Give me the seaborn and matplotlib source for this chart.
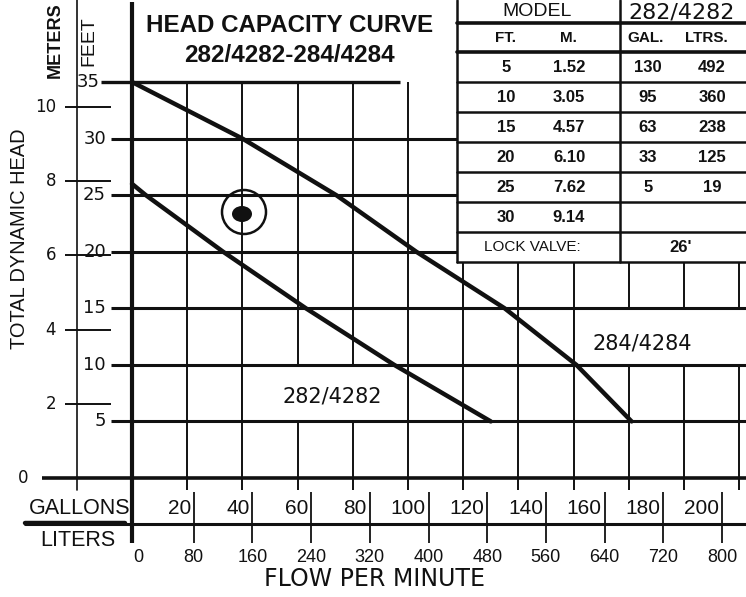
import matplotlib
matplotlib.use("Agg")
import matplotlib.pyplot as plt
import seaborn as sns
import pandas as pd
import numpy as np
from matplotlib.patches import Rectangle, Circle, Ellipse
from matplotlib.lines import Line2D

# ---------------- data ----------------
gal_282 = [0, 5, 33, 63, 95, 130]
ft_282 = [26, 25, 20, 15, 10, 5]
gal_284 = [0, 40, 74, 103, 135, 161, 181]
ft_284 = [35, 30, 25, 20, 15, 10, 5]

feet_ticks = [5, 10, 15, 20, 25, 30, 35]
meter_ticks = [0, 2, 4, 6, 8, 10]
gallon_grid = [20, 40, 60, 80, 100, 120, 140, 160, 180, 200, 220]
gallon_labels = [20, 40, 60, 80, 100, 120, 140, 160, 180, 200]
liter_labels = [0, 80, 160, 240, 320, 400, 480, 560, 640, 720, 800]

table_ft = ["5", "10", "15", "20", "25", "30"]
table_m = ["1.52", "3.05", "4.57", "6.10", "7.62", "9.14"]
table_gal = ["130", "95", "63", "33", "5", ""]
table_ltr = ["492", "360", "238", "125", "19", ""]
lock_valve = "26'"

# ---------------- style ----------------
sns.set_theme(style="white")
plt.rcParams["font.family"] = ["DejaVu Sans"]
NARROW = ["Liberation Sans Narrow", "Liberation Sans", "DejaVu Sans"]
ARIAL = ["Liberation Sans", "DejaVu Sans"]
DJ = ["DejaVu Sans"]
INK = "#111111"

W, H = 746, 597
X0, PXG = 132, 2.76      # main grid: pixel of 0 gal, px per gallon
Y0, PXF = 478, 396 / 35  # main grid: pixel of 0 ft, px per foot

fig = plt.figure(figsize=(W / 100, H / 100), dpi=100)
fig.patch.set_facecolor("white")


def fx(px):
    return px / W


def fy(py):
    return 1 - py / H


def g(px):
    return (px - X0) / PXG


def f(py):
    return (Y0 - py) / PXF


XMAX = (W - X0) / PXG
ax = fig.add_axes([fx(X0), fy(Y0), (W - X0) / W, (Y0 - 82) / H])
ax.set_xlim(0, XMAX)
ax.set_ylim(0, 35)
ax.set_axis_off()

# grid
ax.vlines(gallon_grid, f(490), 35, colors=INK, lw=1.4, zorder=1, clip_on=False)
ax.add_patch(Rectangle((160, 10), XMAX - 160 + 5, 5, fc="white", ec=INK, lw=1.4, zorder=2))
ax.add_patch(Rectangle((40, 5), 60, 5, fc="white", ec=INK, lw=1.4, zorder=2))
ax.hlines(feet_ticks[:-1], g(111), XMAX, colors=INK, lw=2.2, zorder=3, clip_on=False)
ax.hlines(feet_ticks[-1], g(101), g(400), colors=INK, lw=2.4, zorder=3, clip_on=False)
ax.hlines(0, g(42), XMAX, colors=INK, lw=2.6, zorder=3, clip_on=False)
ax.vlines(0, f(543), f(2), colors=INK, lw=3.0, zorder=4, clip_on=False)

# meter scale
m_in_ft = np.array(meter_ticks[1:]) * 3.28084
ax.hlines(m_in_ft, g(65), g(111), colors=INK, lw=1.4, zorder=3, clip_on=False)
for m in meter_ticks[1:]:
    ax.text(g(56), m * 3.28084, str(m), ha="right", va="center", fontsize=12,
            family=DJ, color=INK, clip_on=False)
ax.text(g(28), 0, "0", ha="right", va="center", fontsize=12, family=DJ, color=INK)

# feet labels
for v in feet_ticks:
    ax.text(g(100 if v == 35 else 106), v, str(v), ha="right", va="center", fontsize=13,
            family=DJ, color=INK)

# curves
df = pd.concat([
    pd.DataFrame({"gallons": gal_282, "feet": ft_282, "model": "282/4282"}),
    pd.DataFrame({"gallons": gal_284, "feet": ft_284, "model": "284/4284"}),
], ignore_index=True)
sns.lineplot(data=df, x="gallons", y="feet", hue="model", units="model",
             estimator=None, sort=False, palette=[INK, INK], lw=3.2,
             legend=False, ax=ax, zorder=5)
for ln in ax.lines:
    ln.set_clip_on(False)
    ln.set_solid_capstyle("round")
ax.set_xlim(0, XMAX)
ax.set_ylim(0, 35)
ax.set_axis_off()

ax.text(185, 11.9, "284/4284", ha="center", va="center", fontsize=15, family=DJ, color=INK, zorder=6)
ax.text(72.6, 7.2, "282/4282", ha="center", va="center", fontsize=15, family=DJ, color=INK, zorder=6)

# punched hole mark
fig.add_artist(Circle((2.44, 3.85), 0.22, transform=fig.dpi_scale_trans, fill=False, ec=INK, lw=1.8, zorder=6))
fig.add_artist(Ellipse((2.42, 3.83), 0.2, 0.16, transform=fig.dpi_scale_trans, fc=INK, ec="none", zorder=6))

# left labels
fig.add_artist(Line2D([fx(77), fx(77)], [fy(0), fy(490)], lw=1.2, color=INK))
fig.text(fx(55), fy(40), "METERS", rotation=90, ha="center", va="center", fontsize=13,
         weight="bold", family=ARIAL, color=INK)
fig.text(fx(89), fy(41), "FEET", rotation=90, ha="center", va="center", fontsize=14,
         family=ARIAL, color=INK)
fig.text(fx(20), fy(239), "TOTAL DYNAMIC HEAD", rotation=90, ha="center", va="center",
         fontsize=14.4, family=ARIAL, color=INK)

# title
fig.text(fx(290), fy(25), "HEAD CAPACITY CURVE", ha="center", va="center", fontsize=17.4,
         weight="bold", family=ARIAL, color=INK)
fig.text(fx(289), fy(55), "282/4282-284/4284", ha="center", va="center", fontsize=17.5,
         weight="bold", family=ARIAL, color=INK)

# table
TL, TR, TD, TB = 457, 746, 620, 262
fig.add_artist(Rectangle((fx(TL), fy(TB)), (TR - TL) / W, TB / H, transform=fig.transFigure,
                         fc="white", ec="none", zorder=5))
row_lines = [23, 52, 82, 112, 142, 172, 202, 232, 262]
for i, yy in enumerate(row_lines):
    fig.add_artist(Line2D([fx(TL), fx(TR)], [fy(yy), fy(yy)], lw=2.6 if i < 2 else 1.8,
                          color=INK, zorder=6))
for xx in (TL, TD):
    fig.add_artist(Line2D([fx(xx), fx(xx)], [fy(0), fy(TB)], lw=1.8, color=INK, zorder=6))

fig.text(fx(537), fy(11), "MODEL", ha="center", va="center", fontsize=14, family=ARIAL,
         color=INK, zorder=7)
fig.text(fx(682), fy(12), "282/4282", ha="center", va="center", fontsize=16, family=DJ,
         color=INK, zorder=7)
hdr = [("FT.", 506), ("M.", 568), ("GAL.", 646), ("LTRS.", 706)]
for t, xx in hdr:
    fig.text(fx(xx), fy(38), t, ha="center", va="center", fontsize=11, weight="bold",
             family=ARIAL, color=INK, zorder=7)
row_c = [67, 97, 127, 157, 187, 217]
for i, yy in enumerate(row_c):
    for val, xx in ((table_ft[i], 506), (table_m[i], 569), (table_gal[i], 648), (table_ltr[i], 712)):
        if val:
            fig.text(fx(xx), fy(yy), val, ha="center", va="center", fontsize=12,
                     weight="bold", family=ARIAL, color=INK, zorder=7)
fig.text(fx(532), fy(247), "LOCK VALVE:", ha="center", va="center", fontsize=11,
         family=ARIAL, color=INK, zorder=7)
fig.text(fx(681), fy(247), lock_valve, ha="center", va="center", fontsize=12, weight="bold",
         family=ARIAL, color=INK, zorder=7)

# bottom flow scale
XB0, PXGB = 135, 2.935
axb = fig.add_axes([fx(XB0), fy(565), (W - XB0) / W, (565 - 478) / H])
axb.set_xlim(0, (W - XB0) / PXGB)
axb.set_ylim(565, 478)
axb.set_axis_off()
axb.vlines(gallon_labels, 492, 524, colors=INK, lw=1.3)
axb.vlines([l / 4 for l in liter_labels[1:]], 524, 543, colors=INK, lw=1.3)
for gl in gallon_labels:
    axb.text(gl - 1.0, 509, str(gl), ha="right", va="center", fontsize=15, family=NARROW, color=INK)
for lt in liter_labels:
    axb.text(lt / 4 + (1 if lt == 0 else 0), 557, str(lt), ha="center", va="center", fontsize=13,
             family=NARROW, color=INK)

fig.add_artist(Line2D([fx(25), fx(W)], [fy(524), fy(524)], lw=2.2, color=INK))
fig.add_artist(Line2D([fx(25), fx(125)], [fy(523), fy(523)], lw=3.2, color=INK))
fig.text(fx(80), fy(509), "GALLONS", ha="center", va="center", fontsize=15.5, family=NARROW, color=INK)
fig.text(fx(78), fy(540), "LITERS", ha="center", va="center", fontsize=15.5, family=NARROW, color=INK)
fig.text(fx(375), fy(579), "FLOW PER MINUTE", ha="center", va="center", fontsize=17,
         family=DJ, color=INK)

fig.savefig("out.png", dpi=100, facecolor="white")
